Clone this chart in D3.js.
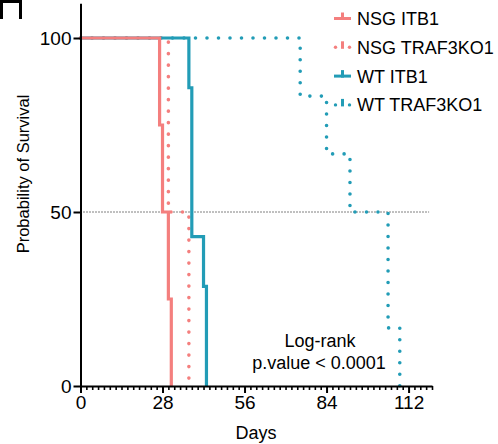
<!DOCTYPE html>
<html>
<head>
<meta charset="utf-8">
<script src="https://cdn.jsdelivr.net/npm/d3@7"></script>
<style>
  html, body { margin: 0; padding: 0; background: #fff; }
  svg { display: block; font-family: "Liberation Sans", Arial, sans-serif; }
</style>
</head>
<body>
<svg id="chart" width="498" height="444"></svg>
<script>
// ---- data ----
const groupNames = ["NSG ITB1", "NSG TRAF3KO1", "WT ITB1", "WT TRAF3KO1"];
const nsgItb1Days = [0, 27, 28, 30, 31];
const nsgItb1Surv = [100, 75, 50, 25, 0];
const nsgTrafDays = [0, 30, 37];
const nsgTrafSurv = [100, 50, 0];
const wtItb1Days = [0, 37, 38, 42, 43];
const wtItb1Surv = [100, 85.7, 42.9, 28.6, 0];
const wtTrafDays = [0, 75, 84, 92, 105, 109];
const wtTrafSurv = [100, 83.3, 66.7, 50, 16.7, 0];
const xTicks = [0, 28, 56, 84, 112];
const yTicks = [0, 50, 100];
const medianLine = 50;

const RED = "#f47f7e", TEAL = "#229cb6";
const series = [
  { name: groupNames[3], days: wtTrafDays, surv: wtTrafSurv, color: TEAL, dotted: true },
  { name: groupNames[1], days: nsgTrafDays, surv: nsgTrafSurv, color: RED, dotted: true },
  { name: groupNames[2], days: wtItb1Days, surv: wtItb1Surv, color: TEAL, dotted: false },
  { name: groupNames[0], days: nsgItb1Days, surv: nsgItb1Surv, color: RED, dotted: false }
];

const svg = d3.select("#chart");
const x = d3.scaleLinear().domain([0, 120]).range([80.5, 432]);
const y = d3.scaleLinear().domain([0, 110]).range([386, 3.2]);

// panel corner mark
svg.append("path").attr("d", "M1.5,19V1.5H20.5V19")
  .attr("fill", "none").attr("stroke", "#000").attr("stroke-width", 3);

// median reference line
svg.append("line")
  .attr("x1", x(0)).attr("x2", x(119))
  .attr("y1", y(medianLine)).attr("y2", y(medianLine))
  .attr("stroke", "#000").attr("stroke-width", 1).attr("stroke-dasharray", "1,2");

// curves
const line = d3.line().curve(d3.curveStepAfter).x(d => x(d[0])).y(d => y(d[1]));
series.forEach(s => {
  const pts = s.days.map((d, i) => [d, s.surv[i]]);
  const p = svg.append("path").attr("d", line(pts))
    .attr("fill", "none").attr("stroke", s.color);
  if (s.dotted) {
    p.attr("stroke-width", 3.6).attr("stroke-linecap", "round").attr("stroke-dasharray", "0,11.5");
  } else {
    p.attr("stroke-width", 3.2).attr("stroke-linejoin", "miter");
  }
});

// y axis
const yAxis = svg.append("g").attr("transform", `translate(${x(0)},0)`)
  .call(d3.axisLeft(y).tickValues(yTicks).tickSize(7).tickSizeOuter(0).tickPadding(2));
yAxis.select(".domain").attr("stroke-width", 2);
yAxis.selectAll(".tick line").attr("stroke-width", 2);
yAxis.selectAll("text").attr("font-size", 19).attr("fill", "#000")
  .attr("font-family", "Liberation Sans, Arial, sans-serif");

// x axis minor ticks
const minor = d3.range(0, 121, 2).filter(v => !xTicks.includes(v));
const xMinor = svg.append("g").attr("transform", `translate(0,${y(0)})`)
  .call(d3.axisBottom(x).tickValues(minor).tickSize(4).tickSizeOuter(0).tickFormat(""));
xMinor.select(".domain").remove();
xMinor.selectAll(".tick line").attr("stroke-width", 1.6);

// x axis
const xAxis = svg.append("g").attr("transform", `translate(0,${y(0)})`)
  .call(d3.axisBottom(x).tickValues(xTicks).tickSize(7).tickSizeOuter(0).tickPadding(3));
xAxis.select(".domain").attr("stroke-width", 2);
xAxis.selectAll(".tick line").attr("stroke-width", 2);
xAxis.selectAll("text").attr("font-size", 19).attr("fill", "#000")
  .attr("font-family", "Liberation Sans, Arial, sans-serif");

// axis titles
svg.append("text").attr("x", 256).attr("y", 439).attr("text-anchor", "middle")
  .attr("font-size", 18).text("Days");
svg.append("text").attr("transform", "translate(29,174) rotate(-90)")
  .attr("text-anchor", "middle").attr("font-size", 16.5).text("Probability of Survival");

// log-rank annotation
svg.append("text").attr("x", 320).attr("y", 347).attr("text-anchor", "middle")
  .attr("font-size", 18).text("Log-rank");
svg.append("text").attr("x", 319).attr("y", 369).attr("text-anchor", "middle")
  .attr("font-size", 18).text("p.value < 0.0001");

// legend
const legendOrder = [
  { name: groupNames[0], color: RED, dotted: false },
  { name: groupNames[1], color: RED, dotted: true },
  { name: groupNames[2], color: TEAL, dotted: false },
  { name: groupNames[3], color: TEAL, dotted: true }
];
const lg = svg.append("g");
legendOrder.forEach((d, i) => {
  const cy = 18.5 + i * 28.8;
  const g = lg.append("g").attr("transform", `translate(0,${cy})`);
  if (d.dotted) {
    [335.5, 349.5].forEach(cx => g.append("circle").attr("cx", cx).attr("cy", 0).attr("r", 1.7).attr("fill", d.color));
  } else {
    g.append("line").attr("x1", 334).attr("x2", 351).attr("y1", 0).attr("y2", 0)
      .attr("stroke", d.color).attr("stroke-width", 3);
  }
  g.append("line").attr("x1", 342.5).attr("x2", 342.5).attr("y1", -6).attr("y2", 1.5)
    .attr("stroke", d.color).attr("stroke-width", 3);
  g.append("text").attr("x", 357).attr("y", 6.5).attr("font-size", 18).text(d.name);
});
</script>
</body>
</html>
